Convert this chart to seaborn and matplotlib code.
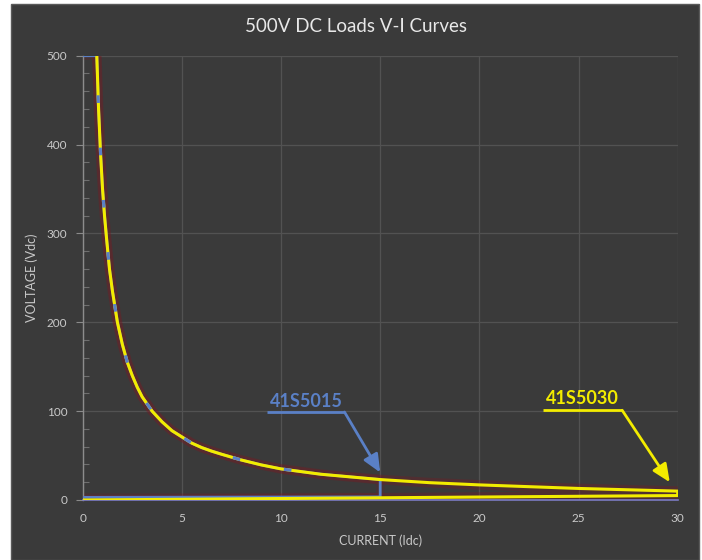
import matplotlib
matplotlib.use("Agg")
import matplotlib.pyplot as plt
import seaborn as sns
import pandas as pd
from matplotlib.patches import Rectangle
from matplotlib.ticker import MultipleLocator

# ---------------- data ----------------
title = "500V DC Loads V-I Curves"
x_label = "CURRENT (Idc)"
y_label = "VOLTAGE (Vdc)"
x_ticks = [0, 5, 10, 15, 20, 25, 30]
y_ticks = [0, 100, 200, 300, 400, 500]

# 41S5015 (blue): 500 V limit, power curve to 15 A, then down to ~0 V and back
s5015_current = [0, 0.71, 0.8, 0.9, 1.0, 1.1, 1.2, 1.35, 1.5, 1.75, 2.0, 2.25, 2.5,
                 2.75, 3.0, 3.25, 3.5, 4.0, 4.5, 5.0, 5.5, 6.0, 6.5, 7.0, 8.0, 9.0,
                 10.0, 11.0, 12.0, 13.5, 15.0, 15.0, 0]
s5015_voltage = [500, 500, 440, 390, 350, 320, 295, 260, 235, 200, 175, 155, 140,
                 127, 116, 108, 100, 88, 78, 71, 64, 59, 55, 51.5, 45, 39.5,
                 35, 32, 29, 26, 23, 3.5, 3]

# 41S5030 (yellow): bottom line up to 30 A, up, then power curve back to 500 V
s5030_current = [0, 30, 30, 27.5, 25.0, 22.5, 20.0, 17.5, 15.0, 13.5, 12.0, 11.0, 10.0,
                 9.0, 8.0, 7.0, 6.5, 6.0, 5.5, 5.0, 4.5, 4.0, 3.5, 3.25, 3.0, 2.75,
                 2.5, 2.25, 2.0, 1.75, 1.5, 1.35, 1.2, 1.1, 1.0, 0.9, 0.8, 0.71]
s5030_voltage = [0, 5, 10, 11.5, 13, 15, 17, 19.5, 23, 26, 29, 32, 35,
                 39.5, 45, 51.5, 55, 59, 64, 71, 78, 88, 100, 108, 116, 127,
                 140, 155, 175, 200, 235, 260, 295, 320, 350, 390, 440, 500]

label_5015 = "41S5015"
label_5030 = "41S5030"

# ---------------- styling ----------------
BG = "#3a3a3a"
GRID = "#525252"
TXT = "#c9c9c9"
BLUE = "#5a80c6"
YELLOW = "#f3ec00"
GLOW = "#7a1a22"

sns.set_theme(style="dark")
plt.rcParams["font.family"] = ["Lato", "DejaVu Sans"]

fig = plt.figure(figsize=(7.02, 5.60), dpi=100, facecolor="white")
bg = Rectangle((11 / 702, 0), (699 - 11) / 702, (560 - 4) / 560,
               transform=fig.transFigure, facecolor=BG,
               edgecolor="#5a5a5a", lw=1.0, zorder=-10)
fig.patches.append(bg)
ax = fig.add_axes([82.7 / 702, 60 / 560, 595 / 702, 444.3 / 560])
ax.set_zorder(1)
ax.set_facecolor(BG)

df15 = pd.DataFrame({"current": s5015_current, "voltage": s5015_voltage})
df30 = pd.DataFrame({"current": s5030_current, "voltage": s5030_voltage})

# soft glow under lines
sns.lineplot(data=df30, x="current", y="voltage", sort=False, estimator=None,
             color=GLOW, lw=7, alpha=0.35, ax=ax, zorder=2)
sns.lineplot(data=df15, x="current", y="voltage", sort=False, estimator=None,
             color=GLOW, lw=6, alpha=0.2, ax=ax, zorder=2)
# blue under yellow
sns.lineplot(data=df15, x="current", y="voltage", sort=False, estimator=None,
             color=BLUE, lw=2.0, ax=ax, zorder=3)
sns.lineplot(data=df30, x="current", y="voltage", sort=False, estimator=None,
             color=YELLOW, lw=2.2, ax=ax, zorder=4)
# blue dashes peeking through along the shared curve
curve15 = df15.iloc[1:len(df15) - 4]
sns.lineplot(data=curve15, x="current", y="voltage", sort=False, estimator=None,
             color=BLUE, lw=2.3, ax=ax, zorder=5, linestyle=(4, (2.4, 14)))

ax.set_xlim(0, 30)
ax.set_ylim(0, 500)
ax.set_xticks(x_ticks)
ax.set_yticks(y_ticks)
ax.set_xticklabels([str(t) for t in x_ticks])
ax.set_yticklabels([str(t) for t in y_ticks])
ax.yaxis.set_minor_locator(MultipleLocator(20))
ax.grid(True, which="major", color=GRID, lw=0.9)
ax.tick_params(axis="y", which="major", direction="out", length=5, width=0.8,
               color="#8a8a8a", labelcolor=TXT, labelsize=8.5, pad=6, left=True)
ax.tick_params(axis="y", which="minor", direction="in", length=4, width=0.8,
               color="#6e6e6e", left=True)
ax.tick_params(axis="x", which="major", length=0, labelcolor=TXT, labelsize=8.5, pad=9)
for s in ["top", "right"]:
    ax.spines[s].set_visible(False)
ax.spines["left"].set_visible(True)
ax.spines["bottom"].set_visible(True)
ax.spines["left"].set_color("#8c8c8c")
ax.spines["left"].set_linewidth(1.0)
ax.spines["bottom"].set_color("#7c7cc4")
ax.spines["bottom"].set_linewidth(1.2)

ax.set_xlabel(x_label, color=TXT, fontsize=9, labelpad=8)
ax.set_ylabel(y_label, color=TXT, fontsize=9, labelpad=6)
fig.text(356 / 702, 1 - 27 / 560, title, color="#e8e8e8", fontsize=13.5,
         ha="center", va="center")

# annotations
ax.text(11.3, 111, label_5015, color=BLUE, fontsize=13, fontweight="bold",
        ha="center", va="center")
ax.plot([9.3, 13.2], [99, 99], color=BLUE, lw=2, solid_capstyle="butt", zorder=6)
ax.annotate("", xy=(15.0, 31), xytext=(13.2, 99),
            arrowprops=dict(arrowstyle="-|>,head_length=0.9,head_width=0.4",
                            color=BLUE, lw=2, shrinkA=0, shrinkB=0), zorder=6)

ax.text(25.2, 114, label_5030, color=YELLOW, fontsize=13, fontweight="bold",
        ha="center", va="center")
ax.plot([23.2, 27.2], [101, 101], color=YELLOW, lw=2, solid_capstyle="butt", zorder=6)
ax.annotate("", xy=(29.6, 20), xytext=(27.2, 101),
            arrowprops=dict(arrowstyle="-|>,head_length=0.9,head_width=0.4",
                            color=YELLOW, lw=2, shrinkA=0, shrinkB=0), zorder=6)

fig.savefig("out.png", dpi=100, facecolor="white")
